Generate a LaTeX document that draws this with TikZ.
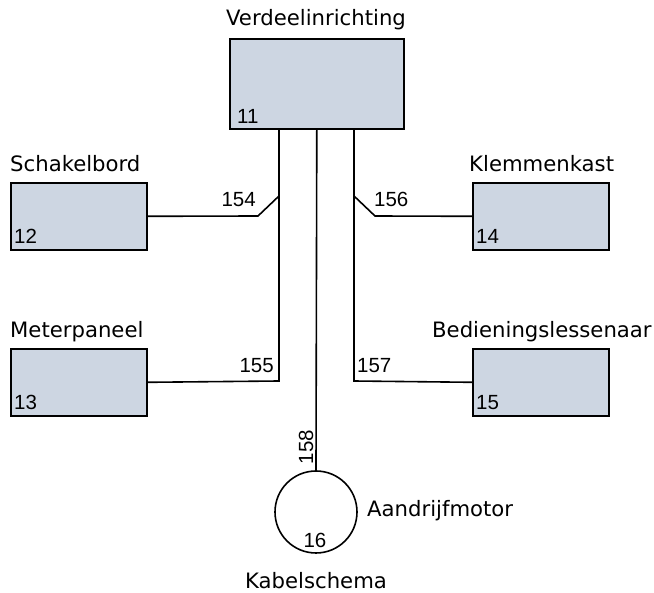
\documentclass[tikz,border=0pt]{standalone}
\usepackage{fontspec}
\setmainfont{DejaVu Sans}
\newfontfamily\numfont{Liberation Sans}
\definecolor{unitfill}{RGB}{205,214,226}

\begin{document}
\begin{tikzpicture}[x=1pt,y=-1pt,font=\fontsize{21.2}{25}\selectfont,
        unit/.style={shape=rectangle,draw=black,fill=unitfill,line width=1.6pt,
                     inner sep=0pt,anchor=north west},
        small/.style={unit,minimum width=136pt,minimum height=67pt},
        num/.style={anchor=base west,inner sep=0pt,font=\fontsize{20.5}{24}\numfont},
        wire/.style={line width=1.6pt},
        txt/.style={inner sep=0pt,anchor=base west}]
        \useasboundingbox (0,0) rectangle (654,593);

        % units
        \node[unit,minimum width=174pt,minimum height=90pt] (V) at (229,38) {};
        \node[small] (S) at (10,182) {};
        \node[small] (M) at (10,348) {};
        \node[small] (K) at (472,182) {};
        \node[small] (B) at (472,348) {};
        \node[shape=circle,draw=black,line width=1.6pt,minimum size=82pt,inner sep=0pt] (A) at (316,512) {};

        % numbers
        \node[num] at ([xshift=8pt,yshift=6pt]V.south west) {11};
        \node[num] at ([xshift=4pt,yshift=7pt]S.south west) {12};
        \node[num] at ([xshift=4pt,yshift=7pt]M.south west) {13};
        \node[num] at ([xshift=4pt,yshift=7pt]K.south west) {14};
        \node[num] at ([xshift=4pt,yshift=7pt]B.south west) {15};
        \node[num,anchor=base] at (315,548) {16};

        % names
        \node[txt,anchor=base] at (316,25.5) {Verdeelinrichting};
        \node[txt] at (10,171.5) {Schakelbord};
        \node[txt] at (10,337.5) {Meterpaneel};
        \node[txt] at (469,171.5) {Klemmenkast};
        \node[txt] at (432,337.5) {Bedieningslessenaar};
        \node[txt] at (367,516.5) {Aandrijfmotor};
        \node[txt,anchor=base] at (316,589) {Kabelschema};

        % cables
        \draw[wire] (V.south -| 279,0) -- (279,381) -- (M.east);
        \draw[wire] (V.south -| 354,0) -- (354,381) -- (B.west);
        \draw[wire] (V.south) -- (A.north);
        \draw[wire] (S.east) -- (258,216) -- (279,196);
        \draw[wire] (K.west) -- (375,216) -- (354,196);

        % cable numbers
        \node[num,anchor=base east] at (256,207) {154};
        \node[num,anchor=base east] at (274,373) {155};
        \node[num] at (374,207) {156};
        \node[num] at (357,373) {157};
        \node[num,anchor=base,rotate=90] at (313,447) {158};
    \end{tikzpicture}
\end{document}
